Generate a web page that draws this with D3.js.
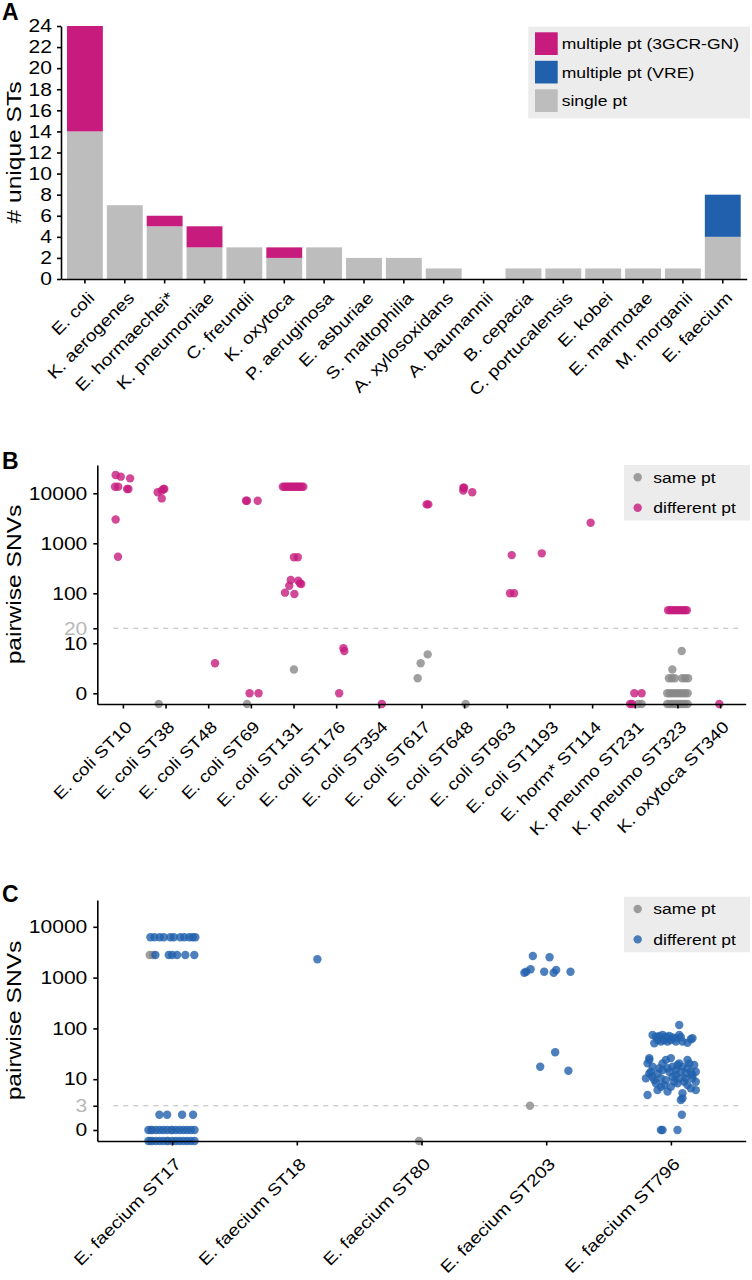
<!DOCTYPE html>
<html>
<head>
<meta charset="utf-8">
<script src="https://cdn.jsdelivr.net/npm/d3@7"></script>
<style>
  body { margin: 0; background: #fff; }
</style>
</head>
<body>
<svg id="fig" width="752" height="1280"></svg>
<script>
// ---- data -------------------------------------------------------------

// A: unique STs per species
var speciesA = ['E. coli', 'K. aerogenes', 'E. hormaechei*', 'K. pneumoniae', 'C. freundii',
    'K. oxytoca', 'P. aeruginosa', 'E. asburiae', 'S. maltophilia', 'A. xylosoxidans',
    'A. baumannii', 'B. cepacia', 'C. portucalensis', 'E. kobei', 'E. marmotae',
    'M. morganii', 'E. faecium'];
var singlePt = [14, 7, 5, 3, 3, 2, 3, 2, 2, 1, 0, 1, 1, 1, 1, 1, 4];
var multiGN = [10, 0, 1, 2, 0, 1, 0, 0, 0, 0, 0, 0, 0, 0, 0, 0, 0];
var multiVRE = [0, 0, 0, 0, 0, 0, 0, 0, 0, 0, 0, 0, 0, 0, 0, 0, 4];
var countTicks = [0, 2, 4, 6, 8, 10, 12, 14, 16, 18, 20, 22, 24];
var legendA = ['multiple pt (3GCR-GN)', 'multiple pt (VRE)', 'single pt'];

// B and C share the SNV axis (the figure labels the 1 position "0")
var snvTicks = [1, 10, 100, 1000, 10000];
var snvLabels = ['0', '10', '100', '1000', '10000'];
var legendSNV = ['same pt', 'different pt'];

// B: 3GCR-GN sequence types, points are [ST index, pairwise SNVs, x jitter]
var stB = ['E. coli ST10', 'E. coli ST38', 'E. coli ST48', 'E. coli ST69', 'E. coli ST131',
    'E. coli ST176', 'E. coli ST354', 'E. coli ST617', 'E. coli ST648', 'E. coli ST963',
    'E. coli ST1193', 'E. horm* ST114', 'K. pneumo ST231', 'K. pneumo ST323', 'K. oxytoca ST340'];
var thresholdB = 20;
var sameB = [
    [1, 0, -0.16], [3, 0, -0.09], [4, 3, 0.01],
    [7, 2, -0.09], [7, 4, -0.02], [7, 6, 0.145], [8, 0, 0.035],
    [12, 0, 0.08], [12, 0, 0.16],
    [13, 7, 0.1], [13, 3, -0.12],
    [13, 2, -0.2], [13, 2, -0.13], [13, 2, -0.06], [13, 2, 0.11], [13, 2, 0.18], [13, 2, 0.25],
    [13, 1, -0.24], [13, 1, -0.18], [13, 1, -0.12], [13, 1, -0.06], [13, 1, 0], [13, 1, 0.06],
    [13, 1, 0.12], [13, 1, 0.18], [13, 1, 0.24],
    [13, 0, -0.24], [13, 0, -0.18], [13, 0, -0.12], [13, 0, -0.06], [13, 0, 0], [13, 0, 0.06],
    [13, 0, 0.12], [13, 0, 0.18], [13, 0, 0.24]
];
var diffB = [
    [0, 23200, -0.17], [0, 21500, -0.05], [0, 19900, 0.17], [0, 13500, -0.185], [0, 13500, -0.11],
    [0, 12200, 0.1], [0, 12200, 0.13], [0, 3000, -0.17], [0, 540, -0.115],
    [1, 10500, -0.185], [1, 11300, -0.09], [1, 12200, -0.05], [1, 12200, -0.03], [1, 7900, -0.09],
    [2, 4, 0.16],
    [3, 7100, -0.09], [3, 7100, -0.115], [3, 7100, 0.16], [3, 1, -0.03], [3, 1, 0.18],
    [4, 13500, -0.25], [4, 13500, -0.21], [4, 13500, -0.17], [4, 13500, -0.13], [4, 13500, -0.09],
    [4, 13500, -0.05], [4, 13500, -0.01], [4, 13500, 0.03], [4, 13500, 0.07], [4, 13500, 0.11],
    [4, 13500, 0.15], [4, 13500, 0.19], [4, 13500, 0.23],
    [4, 525, 0.01], [4, 525, 0.1], [4, 184, -0.065], [4, 179, 0.11], [4, 142, -0.1],
    [4, 158, 0.15], [4, 153, 0.18], [4, 103, -0.2], [4, 97, 0.02],
    [5, 8, 0.17], [5, 7, 0.19], [5, 1, 0.07],
    [6, 0, 0.07],
    [7, 6000, 0.16], [7, 6000, 0.12],
    [8, 12900, -0.02], [8, 11300, -0.02], [8, 12900, 0], [8, 10500, 0.19],
    [9, 580, 0.115], [9, 100, 0.075], [9, 100, 0.17],
    [10, 630, -0.18],
    [11, 2580, -0.035],
    [12, 1, -0.01], [12, 1, 0.16], [12, 0, -0.11], [12, 0, -0.06],
    [13, 46, -0.22], [13, 46, -0.17], [13, 46, -0.12], [13, 46, -0.07], [13, 46, -0.02],
    [13, 46, 0.03], [13, 46, 0.08], [13, 46, 0.13], [13, 46, 0.18], [13, 46, 0.22],
    [14, 0, -0.02]
];

// C: VRE sequence types
var stC = ['E. faecium ST17', 'E. faecium ST18', 'E. faecium ST80', 'E. faecium ST203', 'E. faecium ST796'];
var thresholdC = 3;
var sameC = [
    [0, 2790, -0.18], [0, 2790, -0.155], [0, 1, -0.17], [0, 1, -0.01], [0, 0, -0.175], [0, 0, -0.03],
    [2, 0, -0.02], [3, 3, -0.13]
];
var diffC = [
    [0, 6210, -0.174], [0, 6210, -0.141], [0, 6210, -0.099], [0, 6210, -0.067], [0, 6210, -0.014],
    [0, 6210, 0.013], [0, 6210, 0.066], [0, 6210, 0.098], [0, 6210, 0.138], [0, 6210, 0.165], [0, 6210, 0.186],
    [0, 2790, -0.134], [0, 2790, -0.027], [0, 2790, 0], [0, 2790, 0.04], [0, 2790, 0.106], [0, 2790, 0.178],
    [0, 2, -0.102], [0, 2, -0.04], [0, 2, 0.08], [0, 2, 0.168],
    [0, 1, -0.19], [0, 1, -0.16], [0, 1, -0.13], [0, 1, -0.1], [0, 1, -0.07], [0, 1, -0.04], [0, 1, 0],
    [0, 1, 0.03], [0, 1, 0.06], [0, 1, 0.09], [0, 1, 0.12], [0, 1, 0.15], [0, 1, 0.18],
    [0, 0, -0.19], [0, 0, -0.16], [0, 0, -0.13], [0, 0, -0.1], [0, 0, -0.07], [0, 0, -0.04], [0, 0, 0],
    [0, 0, 0.03], [0, 0, 0.06], [0, 0, 0.09], [0, 0, 0.12], [0, 0, 0.15], [0, 0, 0.18],
    [1, 2290, 0.165],
    [3, 2660, -0.107], [3, 2510, 0.027], [3, 1306, -0.16], [3, 1457, -0.125], [3, 1248, -0.175],
    [3, 1306, -0.016], [3, 1248, 0.06], [3, 1412, 0.08], [3, 1306, 0.195],
    [3, 34, 0.072], [3, 17.6, -0.048], [3, 14.7, 0.178],
    [4, 117, 0.067],
    [4, 74, -0.147], [4, 69, -0.12], [4, 71, -0.093], [4, 74, -0.067], [4, 59, -0.053], [4, 69, -0.04],
    [4, 71, -0.013], [4, 66, 0.013], [4, 64, 0.04], [4, 74, 0.067], [4, 55, 0.093], [4, 52, 0.133],
    [4, 61, 0.16], [4, 51, -0.133], [4, 55, -0.08], [4, 55, -0.027], [4, 55, 0.04], [4, 67, 0.08],
    [4, 64, 0.173], [4, 59, -0.107], [4, 59, 0],
    [4, 26, -0.173], [4, 20.5, -0.187], [4, 17.7, -0.147], [4, 16.4, -0.093], [4, 24, -0.04],
    [4, 26, 0], [4, 20.5, 0.067], [4, 17.7, 0.093], [4, 16.4, 0.133], [4, 19, 0.187],
    [4, 14, -0.16], [4, 13, -0.107], [4, 15.2, -0.067], [4, 14, -0.013], [4, 15.2, 0.04],
    [4, 14, 0.08], [4, 13, 0.12], [4, 14, 0.16], [4, 14, 0.2],
    [4, 10.4, -0.2], [4, 9.6, -0.133], [4, 10.4, -0.08], [4, 9.6, -0.04], [4, 11.2, 0.013],
    [4, 10.4, 0.067], [4, 8.9, 0.107], [4, 10.4, 0.173],
    [4, 8.3, -0.12], [4, 7.7, -0.053], [4, 7.1, 0], [4, 8.3, 0.053], [4, 7.7, 0.133], [4, 6.1, 0.2],
    [4, 4.9, -0.187], [4, 6.1, -0.107], [4, 5.7, -0.027], [4, 5.3, 0.093], [4, 6.6, 0.16],
    [4, 4.2, 0.093], [4, 3.9, 0.08], [4, 8.9, 0.2], [4, 13, -0.173], [4, 12.1, 0.04],
    [4, 20.5, -0.067], [4, 17.7, 0.013], [4, 20.5, 0.147], [4, 16.4, -0.027], [4, 19, 0.053],
    [4, 12.1, 0.173], [4, 11.2, -0.147], [4, 10.4, 0.12], [4, 8.9, 0.027], [4, 7.1, -0.08],
    [4, 24, -0.173], [4, 24, 0.133],
    [4, 2, 0.088], [4, 1, -0.08], [4, 1, -0.067], [4, 1, 0.053]
];

// ---- look ---------------------------------------------------------------
var FONT = "'Liberation Sans', Arial, Helvetica, sans-serif";
var K = 1.17;          // the original font runs wider than Arial
var pink = '#c71b7e', blue = '#2060ac', grey = '#bdbdbd';
var dotGrey = '#888888';

var svg = d3.select('#fig');

function styleAxis(g, size) {
    g.attr('font-family', FONT).attr('font-size', size);
    g.selectAll('.domain, .tick line').attr('stroke', '#000').attr('stroke-width', 1.6);
}

// widen left-axis labels around their anchor
function stretchY(g) {
    g.selectAll('.tick text').each(function () {
        var t = d3.select(this);
        var x = +t.attr('x');
        t.attr('x', 0).attr('transform', 'translate(' + x + ',0) scale(' + K + ',1)');
    });
}

function slantX(g, size, dx, dy) {
    g.selectAll('.tick text')
        .attr('x', null).attr('y', null).attr('dy', null)
        .attr('text-anchor', 'end')
        .attr('font-size', size)
        .attr('transform', 'translate(' + dx + ',' + dy + ') rotate(-45) scale(' + K + ',1)');
}

function panelLetter(txt, y) {
    svg.append('text').attr('x', 2).attr('y', y)
        .attr('font-family', FONT).attr('font-weight', 'bold').attr('font-size', 23)
        .text(txt);
}

function yTitle(txt, cy) {
    svg.append('text')
        .attr('transform', 'translate(20.7,' + cy + ') rotate(-90) scale(' + K + ',1)')
        .attr('text-anchor', 'middle')
        .attr('font-family', FONT).attr('font-size', 21)
        .text(txt);
}

// ---- panel A ------------------------------------------------------------
var boxA = {left: 61, right: 746.7, top: 26, bottom: 279};

var xA = d3.scaleBand().domain(speciesA)
    .range([boxA.left, boxA.right])
    .paddingInner(0.1).paddingOuter(0.15);
var yA = d3.scaleLinear().domain([0, 24]).range([boxA.bottom, boxA.top]);

var rowsA = speciesA.map(function (s, i) {
    return {sp: s, single: singlePt[i], gn: multiGN[i], vre: multiVRE[i]};
});
var stackA = d3.stack().keys(['single', 'gn', 'vre'])(rowsA);
var fillA = {single: grey, gn: pink, vre: blue};

svg.append('g').selectAll('g')
    .data(stackA)
    .join('g')
    .attr('fill', function (s) { return fillA[s.key]; })
    .selectAll('rect')
    .data(function (s) { return s.filter(function (d) { return d[1] > d[0]; }); })
    .join('rect')
    .attr('x', function (d) { return xA(d.data.sp); })
    .attr('width', xA.bandwidth())
    .attr('y', function (d) { return yA(d[1]); })
    .attr('height', function (d) { return yA(d[0]) - yA(d[1]); });

var gyA = svg.append('g')
    .attr('transform', 'translate(' + boxA.left + ',0)')
    .call(d3.axisLeft(yA).tickValues(countTicks).tickSize(4).tickPadding(5).tickSizeOuter(0));
styleAxis(gyA, 18);
stretchY(gyA);

var gxA = svg.append('g')
    .attr('transform', 'translate(0,' + boxA.bottom + ')')
    .call(d3.axisBottom(xA).tickSize(4.5).tickSizeOuter(0));
styleAxis(gxA, 16.5);
slantX(gxA, 16.5, 10.5, 20);

yTitle('# unique STs', (boxA.top + boxA.bottom) / 2);
panelLetter('A', 20);

// legend A
var legA = svg.append('g').attr('transform', 'translate(528.3,26.7)');
legA.append('rect').attr('width', 221.7).attr('height', 91.6).attr('fill', '#ececec');
var keyA = legA.selectAll('g.key')
    .data(legendA)
    .join('g')
    .attr('transform', function (d, i) { return 'translate(6.7,' + (5.6 + i * 28.5) + ')'; });
keyA.append('rect').attr('width', 22.7).attr('height', 22.7)
    .attr('fill', function (d, i) { return [pink, blue, grey][i]; });
keyA.append('text')
    .attr('transform', 'translate(26.7,17) scale(' + K + ',1)')
    .attr('font-family', FONT).attr('font-size', 15)
    .text(function (d) { return d; });

// ---- panels B and C ---------------------------------------------------------
function snvPanel(o) {
    var x = d3.scalePoint().domain(o.cats).range([o.box.left, o.box.right]).padding(0.6);
    var y = d3.scaleLog().domain(o.yDomain).range([o.box.bottom, o.box.top]).clamp(true);

    // threshold line
    svg.append('line')
        .attr('x1', o.box.left + 16).attr('x2', o.box.right - 7.5)
        .attr('y1', y(o.threshold)).attr('y2', y(o.threshold))
        .attr('stroke', '#bbbbbb').attr('stroke-width', 1.2)
        .attr('stroke-dasharray', '5,5');

    var pts = svg.append('g');
    function dots(data, colour) {
        pts.append('g').selectAll('circle')
            .data(data)
            .join('circle')
            .attr('cx', function (d) { return x(o.cats[d[0]]) + d[2] * x.step(); })
            .attr('cy', function (d) { return y(d[1]); })
            .attr('r', 4.2)
            .attr('fill', colour)
            .attr('fill-opacity', 0.8);
    }
    dots(o.same, dotGrey);
    dots(o.diff, o.colour);

    var ticks = o.ticks.concat([o.threshold]);
    var labels = o.labels.concat([String(o.threshold)]);
    var gy = svg.append('g')
        .attr('transform', 'translate(' + o.box.left + ',0)')
        .call(d3.axisLeft(y).tickValues(ticks)
            .tickFormat(function (d, i) { return labels[i]; })
            .tickSize(4).tickPadding(6).tickSizeOuter(0));
    styleAxis(gy, 18);
    gy.selectAll('.tick text')
        .attr('fill', function (d) { return d === o.threshold ? '#b8b8b8' : '#000'; });
    stretchY(gy);

    var gx = svg.append('g')
        .attr('transform', 'translate(0,' + o.box.bottom + ')')
        .call(d3.axisBottom(x).tickSize(4.5).tickSizeOuter(0));
    styleAxis(gx, o.labelSize);
    slantX(gx, o.labelSize, 9.5, 24);

    yTitle('pairwise SNVs', (o.box.top + o.box.bottom) / 2);
    panelLetter(o.letter, o.letterY);

    var leg = svg.append('g').attr('transform', 'translate(624,' + o.legendTop + ')');
    leg.append('rect').attr('width', 126).attr('height', 55.5).attr('fill', '#ececec');
    var key = leg.selectAll('g.key')
        .data(legendSNV)
        .join('g')
        .attr('transform', function (d, i) { return 'translate(0,' + (12.3 + i * 30.4) + ')'; });
    key.append('circle').attr('cx', 13.7).attr('r', 4.2)
        .attr('fill', function (d, i) { return i ? o.colour : dotGrey; })
        .attr('fill-opacity', 0.8);
    key.append('text')
        .attr('transform', 'translate(29.3,5.4) scale(' + K + ',1)')
        .attr('font-family', FONT).attr('font-size', 15)
        .text(function (d) { return d; });
}

snvPanel({
    cats: stB, same: sameB, diff: diffB, colour: pink,
    box: {left: 97.3, right: 745.7, top: 465, bottom: 704},
    yDomain: [0.611, 36800],
    ticks: snvTicks, labels: snvLabels, threshold: thresholdB,
    labelSize: 16.3,
    letter: 'B', letterY: 468.5, legendTop: 465
});

snvPanel({
    cats: stC, same: sameC, diff: diffC, colour: blue,
    box: {left: 97.3, right: 745.7, top: 900, bottom: 1141},
    yDomain: [0.6075, 33700],
    ticks: snvTicks, labels: snvLabels, threshold: thresholdC,
    labelSize: 16.6,
    letter: 'C', letterY: 901.5, legendTop: 896.7
});
</script>
</body>
</html>
